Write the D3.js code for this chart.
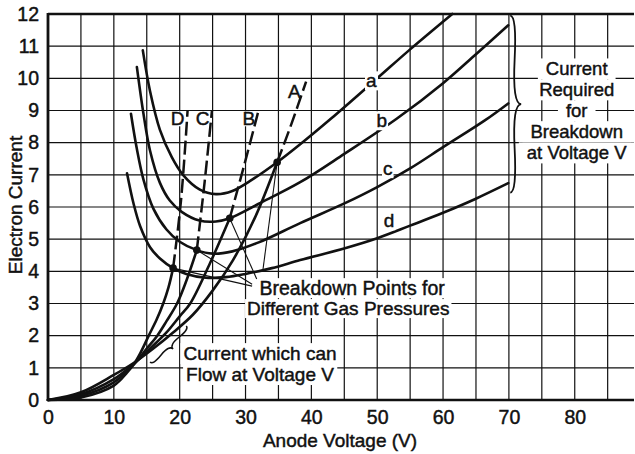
<!DOCTYPE html>
<html>
<head>
<meta charset="utf-8">
<script src="https://cdn.jsdelivr.net/npm/d3@7"></script>
<style>
  html, body { margin: 0; padding: 0; background: #fff; }
  svg { display: block; }
  text { font-family: "Liberation Sans", Arial, Helvetica, sans-serif; fill: #111; stroke: #111; stroke-width: 0.45px; }
</style>
</head>
<body>
<div id="chart"></div>
<script>
// ticks
const xLabelTicks = [0, 10, 20, 30, 40, 50, 60, 70, 80];
const xGridTicks = [0, 5, 10, 15, 20, 25, 30, 35, 40, 45, 50, 55, 60, 65, 70, 75, 80, 85];
const yTicks = [0, 1, 2, 3, 4, 5, 6, 7, 8, 9, 10, 11, 12];

// current required for breakdown at voltage V, [volts, current]
const requiredA = [[14.4, 10.87], [15.5, 9.6], [17, 8.4], [18.8, 7.55], [20.5, 7.0], [23, 6.55], [25.5, 6.4], [28, 6.5], [31, 6.85], [34.8, 7.39], [38.3, 7.95], [43, 8.75], [50, 10.0], [55, 10.9], [61.4, 12.0]];
const requiredB = [[13.5, 10.35], [14.5, 8.9], [15.5, 7.75], [17, 6.75], [18.5, 6.2], [20.3, 5.85], [23, 5.58], [25.5, 5.55], [27.6, 5.65], [32, 6.1], [38.3, 6.77], [45, 7.65], [53, 8.75], [60, 9.85], [65, 10.75], [69.9, 11.65]];
const requiredC = [[12.6, 8.9], [13.5, 7.8], [14.5, 6.85], [16, 5.95], [18, 5.3], [20, 4.92], [22.6, 4.66], [25, 4.55], [28, 4.62], [32, 4.9], [38.3, 5.5], [45.1, 6.12], [50, 6.62], [55, 7.2], [60, 7.86], [66.4, 8.7], [69.9, 9.22]];
const requiredD = [[12, 7.05], [13, 6.1], [14, 5.4], [15.5, 4.75], [17, 4.4], [19, 4.1], [21, 3.92], [24, 3.8], [27, 3.82], [30, 3.92], [34, 4.1], [38.3, 4.35], [45.1, 4.72], [50, 5.03], [55, 5.42], [60, 5.82], [64.9, 6.25], [69.9, 6.74]];

// current which can flow at voltage V (up to breakdown)
const flowA = [[0, 0], [5, 0.24], [10, 0.78], [13, 1.15], [16, 1.6], [19, 2.1], [22, 2.65], [25, 3.4], [28.1, 4.35], [31.5, 5.7], [34.8, 7.39]];
const flowB = [[0, 0], [5, 0.18], [10, 0.65], [13, 1.12], [15.5, 1.6], [18, 2.1], [20, 2.6], [21.6, 3.0], [24.6, 4.25], [27.6, 5.65]];
const flowC = [[0, 0], [5, 0.13], [10, 0.55], [13, 1.1], [15, 1.6], [16.6, 2.0], [18, 2.45], [19.6, 3.0], [21, 3.7], [22.6, 4.66]];
const flowD = [[0, 0], [5, 0.08], [10, 0.45], [12, 0.85], [13, 1.1], [14, 1.45], [15.3, 2.0], [16.5, 2.5], [17.5, 3.0], [18.3, 3.5], [19, 4.1]];

// after breakdown (dashed)
const jumpA = [[34.8, 7.39], [37, 8.6], [39.2, 9.9]];
const jumpB = [[27.6, 5.65], [29.8, 7.3], [31.9, 8.94]];
const jumpC = [[22.6, 4.66], [23.8, 6.8], [24.9, 9.0]];
const jumpD = [[19, 4.1], [20.2, 6.2], [21.2, 9.0]];

// breakdown points
const breakdownPoints = [[34.8, 7.39], [27.6, 5.65], [22.6, 4.66], [19, 4.1]];

const width = 635;
const height = 454;

const x = d3.scaleLinear().domain([0, 89]).range([48, 634]);
const y = d3.scaleLinear().domain([0, 12]).range([400, 14]);

const svg = d3.select('#chart')
  .append('svg')
  .attr('width', width)
  .attr('height', height);

svg.append('rect').attr('width', width).attr('height', height).attr('fill', '#fff');

const ink = '#111';

// grid
const grid = svg.append('g');
grid.selectAll('.vgrid')
  .data(xGridTicks)
  .enter()
  .append('line')
  .attr('x1', d => x(d)).attr('x2', d => x(d))
  .attr('y1', y(0)).attr('y2', y(12))
  .attr('stroke', ink)
  .attr('stroke-width', 1.2);
grid.selectAll('.hgrid')
  .data(yTicks)
  .enter()
  .append('line')
  .attr('x1', x(0)).attr('x2', x(89))
  .attr('y1', d => y(d)).attr('y2', d => y(d))
  .attr('stroke', ink)
  .attr('stroke-width', 1.2);

// white boxes behind labels: some only hide the grid, some also break the curves
const bgLayer = svg.append('g');
const markLayer = svg.append('g');
const topBgLayer = svg.append('g');
const textLayer = svg.append('g');

// heavy frame lines
markLayer.append('line')
  .attr('x1', x(0)).attr('x2', x(0)).attr('y1', y(0) + 1).attr('y2', y(12) - 1)
  .attr('stroke', ink).attr('stroke-width', 2.8);
markLayer.append('line')
  .attr('x1', x(0)).attr('x2', x(89)).attr('y1', y(0)).attr('y2', y(0))
  .attr('stroke', ink).attr('stroke-width', 2.6);
markLayer.append('line')
  .attr('x1', x(0)).attr('x2', x(89)).attr('y1', y(12)).attr('y2', y(12))
  .attr('stroke', ink).attr('stroke-width', 2.6);

// axes labels
svg.append('g')
  .attr('transform', `translate(0,${y(0)})`)
  .call(d3.axisBottom(x).tickValues(xLabelTicks).tickSize(0).tickPadding(10))
  .call(g => g.select('.domain').remove())
  .selectAll('text')
  .attr('font-size', 19.5)
  .attr('fill', ink)
  .style('font-family', '"Liberation Sans", Arial, sans-serif');

svg.append('g')
  .attr('transform', `translate(${x(0)},0)`)
  .call(d3.axisLeft(y).tickValues(yTicks).tickSize(0).tickPadding(9))
  .call(g => g.select('.domain').remove())
  .selectAll('text')
  .attr('font-size', 19.5)
  .attr('fill', ink)
  .style('font-family', '"Liberation Sans", Arial, sans-serif');

svg.append('text')
  .attr('x', 340)
  .attr('y', 447)
  .attr('text-anchor', 'middle')
  .attr('font-size', 19)
  .text('Anode Voltage (V)');

svg.append('text')
  .attr('transform', 'translate(22,205) rotate(-90)')
  .attr('text-anchor', 'middle')
  .attr('font-size', 19)
  .text('Electron Current');

// curves
const line = d3.line()
  .curve(d3.curveCatmullRom.alpha(0.5))
  .x(d => x(d[0]))
  .y(d => y(d[1]));

[requiredA, requiredB, requiredC, requiredD, flowA, flowB, flowC, flowD].forEach((data) => {
  markLayer.append('path')
    .datum(data)
    .attr('fill', 'none')
    .attr('stroke', ink)
    .attr('stroke-width', 2.6)
    .attr('stroke-linecap', 'round')
    .attr('d', line);
});

[jumpA, jumpB, jumpC, jumpD].forEach((data) => {
  markLayer.append('path')
    .datum(data)
    .attr('fill', 'none')
    .attr('stroke', ink)
    .attr('stroke-width', 2.5)
    .attr('stroke-dasharray', '14,5')
    .attr('d', line);
});

// pointer lines from the breakdown label to each point
const pointerStarts = [[32.6, 3.98], [31.7, 3.76], [31.0, 3.6], [31.0, 3.54]];
breakdownPoints.forEach((p, i) => {
  markLayer.append('line')
    .attr('x1', x(pointerStarts[i][0])).attr('y1', y(pointerStarts[i][1]))
    .attr('x2', x(p[0])).attr('y2', y(p[1]))
    .attr('stroke', ink)
    .attr('stroke-width', 1.1);
});

markLayer.selectAll('.dot')
  .data(breakdownPoints)
  .enter()
  .append('circle')
  .attr('cx', d => x(d[0]))
  .attr('cy', d => y(d[1]))
  .attr('r', 3.8)
  .attr('fill', ink);

// curly brace between two points, bulging to the left of p1->p2 direction
function bracePath(x1, y1, x2, y2, w, q) {
  let dx = x1 - x2;
  let dy = y1 - y2;
  const len = Math.sqrt(dx * dx + dy * dy);
  dx /= len;
  dy /= len;
  const qx1 = x1 + q * w * dy;
  const qy1 = y1 - q * w * dx;
  const qx2 = (x1 - 0.25 * len * dx) + (1 - q) * w * dy;
  const qy2 = (y1 - 0.25 * len * dy) - (1 - q) * w * dx;
  const tx1 = (x1 - 0.5 * len * dx) + w * dy;
  const ty1 = (y1 - 0.5 * len * dy) - w * dx;
  const qx3 = x2 + q * w * dy;
  const qy3 = y2 - q * w * dx;
  const qx4 = (x1 - 0.75 * len * dx) + (1 - q) * w * dy;
  const qy4 = (y1 - 0.75 * len * dy) - (1 - q) * w * dx;
  return `M${x1},${y1} Q${qx1},${qy1} ${qx2},${qy2} T${tx1},${ty1} M${x2},${y2} Q${qx3},${qy3} ${qx4},${qy4} T${tx1},${ty1}`;
}

markLayer.append('path')
  .attr('d', bracePath(x(70.2), y(6.45), x(70.2), y(11.95), 11, 0.6))
  .attr('fill', 'none')
  .attr('stroke', ink)
  .attr('stroke-width', 1.8);

markLayer.append('path')
  .attr('d', bracePath(x(15.5), y(1.18), x(21), y(2.3), 7, 0.6))
  .attr('fill', 'none')
  .attr('stroke', ink)
  .attr('stroke-width', 1.5);

// labels with a white knock-out box; pad = [left/right, top, bottom]
function label(txt, vx, vy, size, pad, layer) {
  const t = textLayer.append('text')
    .attr('x', x(vx))
    .attr('y', y(vy))
    .attr('text-anchor', 'middle')
    .attr('font-size', size)
    .text(txt);
  const b = t.node().getBBox();
  const p = pad || [2, -1, -1];
  (layer || bgLayer).append('rect')
    .attr('x', b.x - p[0])
    .attr('y', b.y - p[1])
    .attr('width', b.width + 2 * p[0])
    .attr('height', b.height + p[1] + p[2])
    .attr('fill', '#fff');
  return t;
}

// curve letters sit on the curves and break them
label('a', 49.1, 9.72, 19, [1, -1, -1], topBgLayer);
label('b', 50.7, 8.48, 19, [1, -1, -1], topBgLayer);
label('c', 51.6, 6.99, 19, [1, -1, -1], topBgLayer);
label('d', 51.8, 5.37, 19, [1, -1, -1], topBgLayer);

label('A', 37.4, 9.38, 19, [2, -3, -3]);
label('B', 30.5, 8.54, 19, [2, -3, -3]);
label('C', 23.5, 8.54, 19, [2, -3, -3]);
label('D', 19.7, 8.54, 19, [2, -3, -3]);

label('Current', 80.3, 10.09, 18.5, [8, 0, 0]);
label('Required', 80.3, 9.44, 18.5, [8, 0, 0]);
label('for', 80.3, 8.79, 18.5, [8, 0, 0]);
label('Breakdown', 80.3, 8.14, 18.5, [8, 0, 0]);
label('at Voltage V', 80.3, 7.48, 18.5, [8, 0, 0]);

label('Breakdown Points for', 46.2, 3.26, 19.5);
label('Different Gas Pressures', 45.6, 2.64, 19);

label('Current which can', 32.2, 1.24, 19, [3, 0, 0]);
label('Flow at Voltage V', 32.2, 0.59, 19, [3, 0, 0]);
</script>
</body>
</html>
